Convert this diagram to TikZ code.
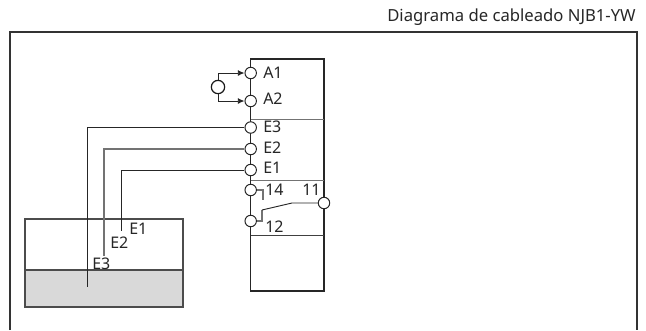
\documentclass[tikz,border=0pt]{standalone}
\usepackage{fontspec}
\setmainfont{Noto Sans}
\usetikzlibrary{arrows.meta}
\begin{document}
\begin{tikzpicture}[x=0.75pt,y=-0.75pt,
  lbl/.style={inner sep=0pt,font=\fontsize{12}{14}\selectfont,text=black!85},
  term/.style={circle,draw=black!85,fill=white,line width=0.75pt,minimum size=8.6pt,inner sep=0pt},
  wire/.style={draw=black!85,line width=0.7pt},
  graywire/.style={draw=black!55,line width=0.8pt},
  dev/.style={draw=black!85,line width=0.9pt}]
\useasboundingbox (0,0) rectangle (646,330);
\node[anchor=east,inner sep=0pt,font=\fontsize{12.5}{14}\selectfont,text=black!85] (title) at (636,17) {Diagrama de cableado NJB1-YW};
% frame
\coordinate (fbl) at (10,330); \coordinate (ftl) at (10,32); \coordinate (ftr) at (637,32); \coordinate (fbr) at (637,330);
\draw[draw=black!80,line width=0.9pt] (fbl) -- (ftl) -- (ftr) -- (fbr);
% tank
\fill[black!15] (25,270) rectangle (183,307);
\draw[draw=black!70,line width=0.8pt] (25,219) rectangle (183,307);
\draw[draw=black!70,line width=0.8pt] (25,270) -- (183,270);
% device
\draw[dev] (250.5,59) rectangle (324,291);
\draw[draw=black!55,line width=0.7pt] (250.5,119) -- (324,119);
\draw[draw=black!55,line width=0.7pt] (250.5,180) -- (324,180);
\draw[draw=black!75,line width=0.7pt] (250.5,235) -- (324,235);
% terminals
\node[term] (a1) at (250.7,73) {};
\node[term] (a2) at (250.7,101) {};
\node[term] (e3) at (250.7,127.5) {};
\node[term] (e2) at (250.7,149) {};
\node[term] (e1) at (250.7,170) {};
\node[term] (t14) at (250.7,190) {};
\node[term] (t12) at (250.7,221) {};
\node[term] (t11) at (324,203) {};
\node[circle,draw=black!90,fill=white,line width=0.9pt,minimum size=10pt,inner sep=0pt] (src) at (218,87) {};
% labels
\node[lbl,anchor=west] at (263,73) {A1};
\node[lbl,anchor=west] at (263,99) {A2};
\node[lbl,anchor=west] at (263,127) {E3};
\node[lbl,anchor=west] at (263,147.5) {E2};
\node[lbl,anchor=west] at (263,168) {E1};
\node[lbl,anchor=west] at (265,190) {14};
\node[lbl,anchor=west] at (302,190) {11};
\node[lbl,anchor=west] at (265,227) {12};
\node[lbl,anchor=west] (l1) at (129,229) {E1};
\node[lbl,anchor=west] (l2) at (110,243) {E2};
\node[lbl,anchor=west] (l3) at (92,264) {E3};
% supply
\draw[wire,-{Latex[length=5pt,width=4.5pt]}] (src.north) -- (218,73) -- (a1.west);
\draw[wire,-{Latex[length=5pt,width=4.5pt]}] (src.south) -- (218,101) -- (a2.west);
% electrodes
\coordinate (p3) at (87,287); \coordinate (p2) at (104,256); \coordinate (p1) at (121,231);
\draw[wire] (e3.west) -- (87,127.5) -- (p3);
\draw[graywire] (e2.west) -- (104,149) -- (p2);
\draw[wire] (e1.west) -- (121,170) -- (p1);
% switch
\coordinate (c14) at (263,200); \coordinate (c12) at (262,210); \coordinate (kn) at (292,203);
\draw[graywire] (t14.east) -- (263,190) -- (c14);
\draw[graywire] (t12.east) -- (262,221) -- (c12);
\draw[wire] (c12) -- (kn) -- (t11.west);
\end{tikzpicture}
\end{document}
